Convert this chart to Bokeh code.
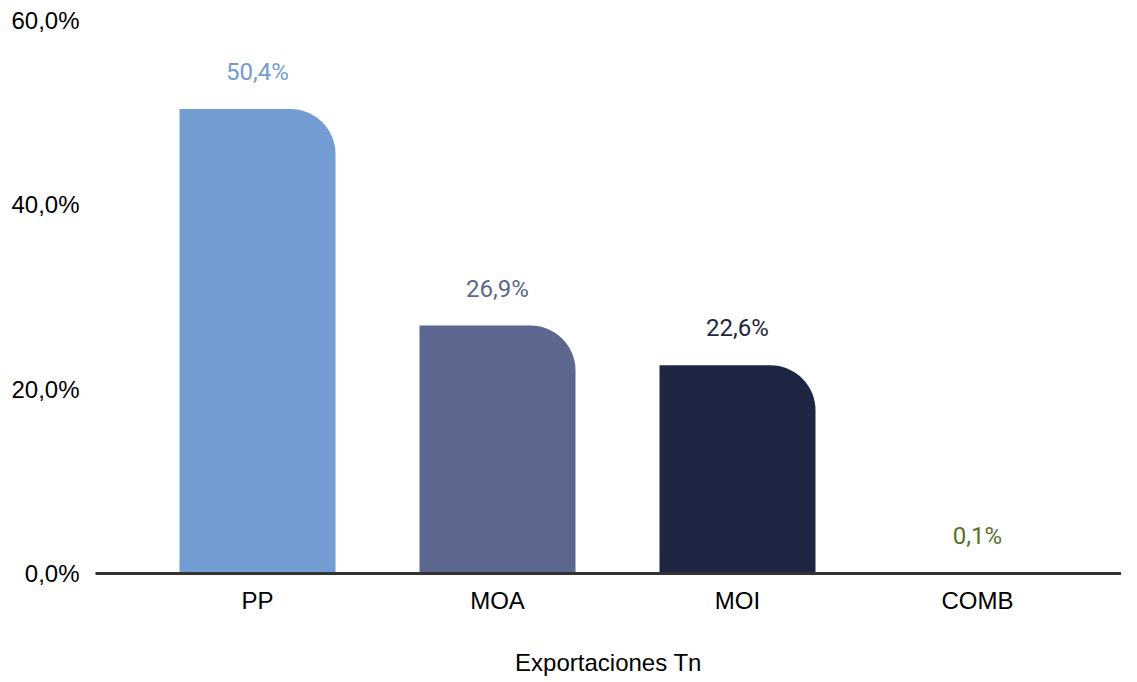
from bokeh.plotting import figure
from bokeh.models import Range1d, FixedTicker, ColumnDataSource, LabelSet
from bokeh.core.properties import value
from bokeh.embed import file_html
from bokeh.resources import INLINE

categories = ["PP", "MOA", "MOI", "COMB"]
values = [50.4, 26.9, 22.6, 0.1]
value_labels = ["50,4%", "26,9%", "22,6%", "0,1%"]
bar_colors = ["#729CD2", "#5B678F", "#1E2644", "#5B6F2D"]
y_ticks = [0, 20, 40, 60]
y_tick_labels = ["0,0%", "20,0%", "40,0%", "60,0%"]
x_axis_title = "Exportaciones Tn"

xs = list(range(len(categories)))
src = ColumnDataSource(dict(x=xs, top=values, lab=value_labels, color=bar_colors))

p = figure(width=1121, height=678, output_backend="svg", toolbar_location=None,
           x_range=Range1d(-0.675, 3.6), y_range=Range1d(0, 60),
           min_border_left=95, min_border_right=0, min_border_top=20, min_border_bottom=100)
p.outline_line_color = None
p.grid.visible = False

p.vbar(x="x", top="top", width=0.65, bottom=0, source=src, fill_color="color",
       line_color=None, border_radius=(0, 45, 0, 0))

labels = LabelSet(x="x", y="top", text="lab", source=src, text_color="color",
                  text_font=value("Roboto"), text_font_size="24px", text_align="center",
                  text_baseline="middle", y_offset=37)
p.add_layout(labels)

p.xaxis.ticker = FixedTicker(ticks=xs)
p.xaxis.major_label_overrides = {i: c for i, c in zip(xs, categories)}
p.xaxis.axis_line_color = "#333333"
p.xaxis.axis_line_width = 3
p.xaxis.major_tick_line_color = None
p.xaxis.minor_tick_line_color = None
p.xaxis.major_label_text_font = "Liberation Sans"
p.xaxis.major_label_text_font_size = "24px"
p.xaxis.major_label_text_color = "#000000"
p.xaxis.major_label_standoff = 7
p.xaxis.axis_label = x_axis_title
p.xaxis.axis_label_text_font = "Liberation Sans"
p.xaxis.axis_label_text_font_size = "24px"
p.xaxis.axis_label_text_font_style = "normal"
p.xaxis.axis_label_text_color = "#000000"
p.xaxis.axis_label_standoff = 32

p.yaxis.ticker = FixedTicker(ticks=y_ticks)
p.yaxis.major_label_overrides = {t: l for t, l in zip(y_ticks, y_tick_labels)}
p.yaxis.axis_line_color = None
p.yaxis.major_tick_line_color = None
p.yaxis.minor_tick_line_color = None
p.yaxis.major_label_text_font = "Liberation Sans"
p.yaxis.major_label_text_font_size = "24px"
p.yaxis.major_label_text_color = "#000000"
p.yaxis.major_label_standoff = 10

open("out.html", "w").write(file_html(p, INLINE))
